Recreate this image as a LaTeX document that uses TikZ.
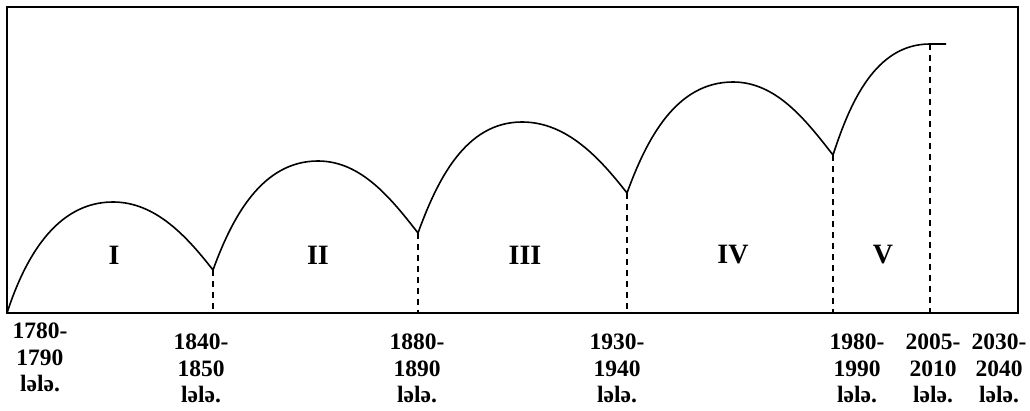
\documentclass[tikz,border=0pt]{standalone}
\usepackage{fontspec}
\setmainfont{Liberation Serif}
\begin{document}
\begin{tikzpicture}[x=1pt,y=1pt,
  frame/.style={line width=1.3pt},
  wave/.style={line width=1.6pt},
  guide/.style={line width=1.2pt,dash pattern=on 6pt off 5pt},
  era/.style={font=\fontsize{28}{30}\selectfont\bfseries},
  year/.style={font=\fontsize{23.5}{26.5}\selectfont\bfseries,align=center,anchor=north,inner sep=0pt}]
\useasboundingbox (0,0) rectangle (1030,410);
\draw[frame] (7,97) rectangle (1018,403);
% curve key points
\coordinate (A0) at (7,97);
\coordinate (P1) at (113,208);
\coordinate (C1) at (213,140);
\coordinate (P2) at (318,249);
\coordinate (C2) at (418,177);
\coordinate (P3) at (522,288);
\coordinate (C3) at (627,217);
\coordinate (P4) at (733,328);
\coordinate (C4) at (833,255);
\coordinate (P5) at (930,366);
\coordinate (E) at (946,366);
% bottom feet
\coordinate (B1) at (213,97);
\coordinate (B2) at (418,97);
\coordinate (B3) at (627,97);
\coordinate (B4) at (833,97);
\coordinate (B5) at (930,97);
\draw[wave] (A0) to[out=72,in=180,looseness=0.95] (P1) to[out=0,in=128,looseness=0.9] (C1)
  to[out=70,in=180,looseness=0.95] (P2) to[out=0,in=128,looseness=0.9] (C2)
  to[out=70,in=180,looseness=0.95] (P3) to[out=0,in=128,looseness=0.9] (C3)
  to[out=70,in=180,looseness=0.95] (P4) to[out=0,in=128,looseness=0.9] (C4)
  to[out=72,in=180,looseness=0.95] (P5) -- (E);
\draw[guide] (C1) -- (B1);
\draw[guide] (C2) -- (B2);
\draw[guide] (C3) -- (B3);
\draw[guide] (C4) -- (B4);
\draw[guide] (P5) -- (B5);
\node[era] (n1) at (114,155) {I};
\node[era] (n2) at (318,155) {II};
\node[era] (n3) at (525,155) {III};
\node[era] (n4) at (733,155) {IV};
\node[era] (n5) at (883,155) {V};
\node[year] (y1) at (40,87) {1780-\\1790\\lələ.};
\node[year] (y2) at (201,76) {1840-\\1850\\lələ.};
\node[year] (y3) at (417,76) {1880-\\1890\\lələ.};
\node[year] (y4) at (617,76) {1930-\\1940\\lələ.};
\node[year] (y5) at (857,76) {1980-\\1990\\lələ.};
\node[year] (y6) at (933,76) {2005-\\2010\\lələ.};
\node[year] (y7) at (999,76) {2030-\\2040\\lələ.};
\end{tikzpicture}
\end{document}
